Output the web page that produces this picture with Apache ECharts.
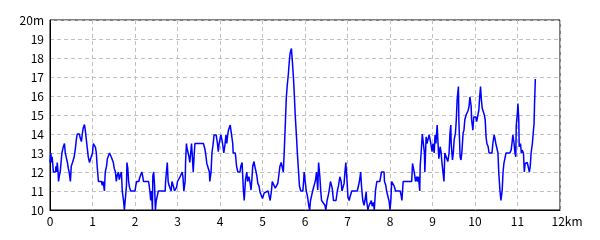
<!DOCTYPE html>
<html>
<head>
<meta charset="utf-8">
<script src="https://cdn.jsdelivr.net/npm/echarts@6/dist/echarts.min.js"></script>
<style>html,body{margin:0;padding:0;background:#fff}#c{width:600px;height:240px}</style>
</head>
<body>
<div id="c"></div>
<script>
const distanceKm = [
0.00,0.02,0.04,0.05,0.08,0.13,0.14,0.16,0.17,0.19,0.20,0.22,0.24,0.26,0.28,0.31,0.34,0.36,0.38,0.41,
0.43,0.45,0.48,0.50,0.53,0.55,0.57,0.60,0.62,0.64,0.69,0.71,0.74,0.76,0.78,0.81,0.83,0.85,0.88,0.90,
0.93,0.95,0.97,1.00,1.02,1.04,1.07,1.09,1.11,1.14,1.21,1.23,1.25,1.28,1.30,1.33,1.35,1.37,1.40,1.42,
1.44,1.47,1.49,1.51,1.54,1.56,1.58,1.61,1.63,1.65,1.68,1.70,1.73,1.75,1.77,1.80,1.81,1.83,1.85,1.87,
1.90,2.00,2.02,2.04,2.09,2.11,2.13,2.16,2.18,2.20,2.32,2.35,2.37,2.39,2.41,2.42,2.44,2.46,2.48,2.50,
2.53,2.55,2.71,2.72,2.74,2.76,2.78,2.80,2.82,2.85,2.87,2.89,2.91,2.93,2.96,2.98,3.00,3.03,3.05,3.07,
3.11,3.13,3.15,3.18,3.19,3.21,3.22,3.25,3.27,3.29,3.31,3.33,3.35,3.37,3.39,3.41,
3.53,3.61,3.64,3.66,3.69,3.75,3.76,3.79,3.81,3.84,3.86,3.91,3.94,3.96,3.98,4.02,4.04,4.06,4.09,4.12,
4.14,4.16,4.18,4.20,4.24,4.27,4.30,4.31,4.36,4.39,4.42,4.47,4.49,4.52,4.53,4.55,4.57,4.60,4.63,4.65,
4.68,4.71,4.73,4.75,4.77,4.80,4.82,4.85,4.87,4.89,4.92,4.94,4.97,5.00,5.04,5.07,5.13,5.16,5.18,5.21,
5.23,5.27,5.30,5.33,5.36,5.38,5.41,5.44,5.46,5.49,5.51,5.54,5.56,5.58,5.61,5.63,5.65,5.68,5.70,5.73,
5.75,5.77,5.80,5.82,5.84,5.87,5.90,5.95,5.97,5.98,6.01,6.03,6.06,6.09,6.11,6.13,6.16,6.18,6.22,6.25,
6.27,6.30,6.32,6.35,6.37,6.39,6.43,6.47,6.49,6.52,6.55,6.57,6.60,6.64,6.67,6.73,6.76,6.79,6.82,6.85,
6.87,6.92,6.94,6.96,6.99,7.01,7.04,7.06,7.10,7.23,7.28,7.31,7.33,7.36,7.39,7.41,7.44,7.45,7.48,7.50,
7.53,7.56,7.58,7.61,7.63,7.66,7.69,
7.76,7.80,7.86,7.87,7.90,7.92,7.96,7.98,8.00,8.02,8.04,8.08,8.10,8.13,8.24,8.26,8.28,8.31,8.51,8.53,
8.56,8.58,8.60,8.63,8.65,8.67,8.70,8.71,8.74,8.76,8.79,8.81,8.82,8.85,8.87,8.89,8.92,8.94,8.96,8.99,
9.01,9.04,9.06,9.08,9.11,9.13,9.15,9.18,9.20,9.22,9.25,9.27,9.29,9.33,9.36,9.39,9.41,9.43,9.44,9.47,
9.49,9.51,9.54,9.56,9.58,9.61,9.62,9.65,9.67,9.69,9.72,9.74,9.76,9.79,9.81,9.84,9.86,9.88,9.91,9.92,
9.95,9.97,9.99,10.02,10.04,10.06,10.09,10.11,10.13,10.15,10.17,10.20,10.22,10.24,10.26,10.28,10.31,10.33,10.40,10.42,
10.45,10.47,10.49,10.52,10.54,10.56,10.59,10.61,10.64,10.66,10.68,10.71,10.73,10.82,10.85,10.87,10.89,10.92,10.94,10.96,
10.97,11.00,11.01,11.03,11.04,11.07,11.09,11.11,11.14,11.16,11.18,11.23,11.25,11.28,11.30,11.32,11.35,11.37,11.39,11.40,
11.42
];
const elevationM = [
12.5,13,12.5,12.8,12,12,12.3,12,12.5,12,11.5,11.8,12,12.5,13,13.3,13.5,13,12.8,12.5,
12.2,12,11.5,12.3,12.5,12.5,12.8,13.3,13.7,14,14,13.8,13.6,14,14.3,14.5,14.2,13.8,13.2,12.8,
12.5,12.5,12.8,13,13.5,13.5,13.3,13,12.3,11.5,11.5,11.3,11.5,11,12,12.3,12.7,12.8,13,13,
12.8,12.7,12.5,12.2,12,11.5,11.8,12,11.6,11.8,12,11,10.5,10,10,11.3,12.5,12.2,11.5,11.2,
11,11,11.3,11.5,11.5,11.7,11.8,12,11.8,11.5,11.5,11,10.5,11,10,11.8,12,11.3,10,10.5,
10.8,11,11,11.5,12,12.5,11.5,11.3,11.2,11,11.5,11.5,11.2,11,11,11.2,11.5,11.5,11.7,11.8,
12,11.7,11,11.5,12.5,13.5,13.3,13,12.8,12.5,13,13.5,12.8,12,12.8,13.5,
13.5,13.5,13.25,13,12.45,12,11.5,12,13,13.5,13.95,13.95,13.5,13.07,13.5,13.95,13.75,13.5,13,13.5,
13.95,13.5,13.95,14.2,14.47,14.47,13.5,13,13,12.3,12,12,12.3,12.5,12,11.05,10.5,11.6,12,11.5,
11.75,11.4,11.05,11.6,12.3,12.55,12.3,12,11.75,11.4,11.25,10.95,10.9,10.6,10.9,11,11,10.7,10.5,11,
11.5,11.5,11.15,11.05,11.4,11.75,12.3,12.5,12.3,12,13,14.7,15.9,16.5,17.2,17.8,18.25,18.5,17.9,16.9,
16,15,13.85,13,12.3,11.25,11,11,11.6,12,11.4,11,10.7,10.2,10,10.5,10.8,11,11.05,11.6,
12,11.05,12.5,11.75,11,10.5,10.5,10.25,10,10.5,10.8,11.05,11.5,11.15,10.5,10.5,11,11.3,11.75,11.5,
11,11.4,12,12.5,11.5,10.7,10.5,10.7,11,11,11.5,12,11.25,10.5,10.25,10.5,10.95,10.5,10,10.2,
10.1,10.5,10.2,10.4,10,11.05,11.5,
11.5,12,12,11.5,11.3,11,11,10.45,10,10.5,11.5,11.5,11.25,11,11,10.8,10.5,11.5,11.5,12.45,
12.1,11.85,11.5,11.75,11.5,11.75,11,12.3,13.25,14,14,13,12,13.85,13.5,13.5,13.95,13.75,13.5,13.07,
13.5,13,13.95,13.5,14.47,13.5,12.7,13.33,13.07,12.55,11.93,11.5,13,13,12.55,13,14,14.47,13.5,12.63,
13,13.7,14.05,14.75,15.8,16.5,14.75,12.8,12.63,13,14.05,14.2,14.75,15,14.9,15.25,15.45,15.95,15.45,14.75,
14.2,14.9,15,14.9,14.65,14.9,15.25,15.95,16.5,15.8,15.35,15.45,15,14.75,13.85,13.5,13.33,13,13,13.5,
13.95,13.75,13.5,13.5,13,11.93,10.95,10.5,11.05,12,12.45,12.5,13,13,13.15,13.5,13.95,13.5,13,12.8,
14.4,15.2,15.6,14.75,13.33,13.5,13,13.15,13,12,12.45,12.5,12.3,12,12.3,13,13.5,14.05,14.55,15.5,
16.9
];
const xTicks = [0,1,2,3,4,5,6,7,8,9,10,11,12];
const yTicks = [10,11,12,13,14,15,16,17,18,19,20];

const chart = echarts.init(document.getElementById('c'), null, {renderer: 'canvas'});
const font = '"Noto Sans CJK JP", "DejaVu Sans", sans-serif';
const seriesData = distanceKm.map((d, i) => [d, elevationM[i]]);
chart.setOption({
  animation: false,
  backgroundColor: '#fff',
  grid: {left: 50, top: 20, right: 40, bottom: 30, show: true, borderColor: '#000', borderWidth: 1, backgroundColor: 'transparent'},
  xAxis: {
    type: 'value', min: xTicks[0], max: xTicks[xTicks.length - 1], interval: 1,
    axisLine: {show: true, lineStyle: {color: '#000', width: 1}},
    axisTick: {show: false},
    splitLine: {show: true, lineStyle: {color: '#c0c0c0', type: [4, 3], width: 1}},
    axisLabel: {
      color: '#000', fontSize: 12, fontFamily: font, margin: 5,
      formatter: v => v === 12 ? '{p|}12km' : String(v),
      rich: {p: {width: 14}}
    }
  },
  yAxis: {
    type: 'value', min: yTicks[0], max: yTicks[yTicks.length - 1], interval: 1,
    axisLine: {show: true, lineStyle: {color: '#000', width: 1}},
    axisTick: {show: false},
    splitLine: {show: true, lineStyle: {color: '#c0c0c0', type: [4, 3], width: 1}},
    axisLabel: {
      color: '#000', fontSize: 12, fontFamily: font, margin: 6,
      formatter: v => v === 20 ? '20m' : String(v)
    }
  },
  series: [{
    type: 'line', data: seriesData, showSymbol: false, symbol: 'none',
    lineStyle: {color: '#0000ff', width: 1.5}, clip: true
  }]
});
</script>
</body>
</html>
